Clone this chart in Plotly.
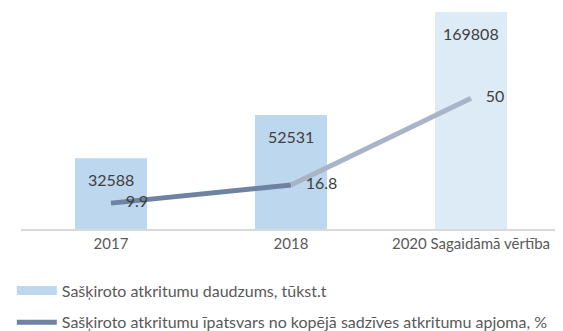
import plotly.graph_objects as go

categories = ["2017", "2018", "2020 Sagaidāmā vērtība"]
sorted_waste = [32588, 52531, 169808]
sorted_share = [9.9, 16.8, 50]
bar_name = "Sašķiroto atkritumu daudzums, tūkst.t"
line_name = "Sašķiroto atkritumu īpatsvars no kopējā sadzīves atkritumu apjoma, %"

Y_MAX = 100000
Y2_MAX = 83
FONT = "Lato, 'Open Sans', sans-serif"
bar_colors = ["#bdd7ee", "#bdd7ee", "#ddebf7"]
line_colors = ["#6e82a2", "#a9b4c8"]

fig = go.Figure()
fig.add_trace(go.Bar(
    x=categories, y=sorted_waste, marker=dict(color=bar_colors, line=dict(width=0)),
    showlegend=False, name=bar_name, hoverinfo="skip"))
# legend proxy for the bar series (wide swatch like the original)
fig.add_trace(go.Scatter(
    x=[None], y=[None], mode="lines", line=dict(color=bar_colors[0], width=9),
    name=bar_name, legendgroup="a", showlegend=True))
fig.add_trace(go.Scatter(
    x=categories[0:2], y=sorted_share[0:2], yaxis="y2", mode="lines",
    line=dict(color=line_colors[0], width=5), name=line_name,
    legendgroup="b", showlegend=True))
fig.add_trace(go.Scatter(
    x=categories[1:3], y=sorted_share[1:3], yaxis="y2", mode="lines",
    line=dict(color=line_colors[1], width=5), showlegend=False, legendgroup="b"))
fig.add_trace(go.Scatter(
    x=categories, y=sorted_share, yaxis="y2", mode="markers+text",
    marker=dict(size=22, color="rgba(0,0,0,0)"),
    text=[str(v) for v in sorted_share], textposition="middle right",
    textfont=dict(size=16, color="#404040", family=FONT),
    showlegend=False, hoverinfo="skip"))

# bar value labels (category index used as x on the category axis)
for i, v in enumerate(sorted_waste):
    fig.add_annotation(x=i, y=min(v, Y_MAX), xref="x", yref="y", text=str(v),
                       showarrow=False, yshift=-21,
                       font=dict(size=16, color="#404040", family=FONT))

# the page body adds an 8px margin, so the figure is sized 8px smaller
fig.update_layout(
    width=555, height=323,
    margin=dict(l=13, r=2, t=4, b=102, autoexpand=False),
    paper_bgcolor="white", plot_bgcolor="white",
    font=dict(family=FONT, size=15, color="#595959"),
    bargap=0.6,
    xaxis=dict(type="category", range=[-0.5, len(categories) - 0.5],
               showline=True, linecolor="#d9d9d9", linewidth=2, ticks="",
               showgrid=False, tickfont=dict(size=15, color="#595959")),
    yaxis=dict(range=[0, Y_MAX], visible=False, showgrid=False),
    yaxis2=dict(range=[0, Y2_MAX], overlaying="y", visible=False, showgrid=False),
    legend=dict(orientation="v", x=-0.017, xanchor="left", y=-0.205, yanchor="top",
                font=dict(size=16, color="#595959", family=FONT), itemwidth=40,
                tracegroupgap=8, traceorder="grouped", bgcolor="rgba(0,0,0,0)"),
)
fig.write_html("out.html")
